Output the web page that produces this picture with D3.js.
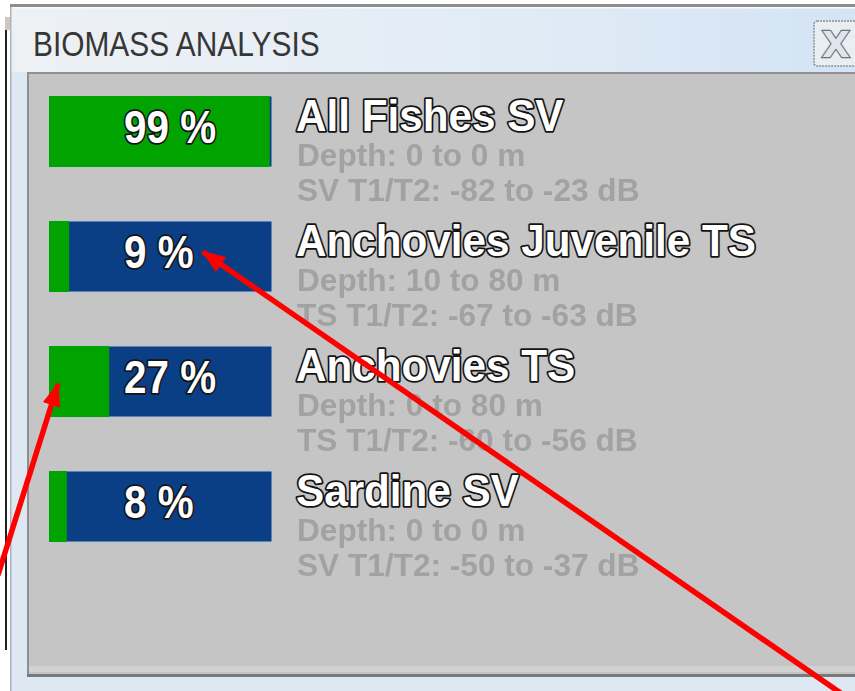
<!DOCTYPE html>
<html><head><meta charset="utf-8">
<script src="https://cdn.jsdelivr.net/npm/d3@7"></script>
<style>
html,body{margin:0;padding:0;background:#fff;}
svg{display:block;}
</style></head>
<body>
<script>
// ---- data ----
const categories = ["All Fishes SV", "Anchovies Juvenile TS", "Anchovies TS", "Sardine SV"];
const percentages = [99, 9, 27, 8];
const depthFrom = [0, 10, 0, 0];
const depthTo = [0, 80, 80, 0];
const thresholdType = ["SV", "TS", "TS", "SV"];
const thresholdLow = [-82, -67, -60, -50];
const thresholdHigh = [-23, -63, -56, -37];
const panelTitle = "BIOMASS ANALYSIS";

const W = 855, H = 691;
const svg = d3.select("body").append("svg").attr("width", W).attr("height", H);
const defs = svg.append("defs");

const tg = defs.append("linearGradient").attr("id", "titleGrad").attr("x1", 0).attr("x2", 1);
tg.append("stop").attr("offset", 0).attr("stop-color", "#eef1f4");
tg.append("stop").attr("offset", 0.55).attr("stop-color", "#e2ecf6");
tg.append("stop").attr("offset", 1).attr("stop-color", "#d4e4f4");

defs.append("filter").attr("id", "soft").append("feGaussianBlur").attr("stdDeviation", 0.7);

const mk = defs.append("marker").attr("id", "arrow").attr("viewBox", "0 0 24 18")
  .attr("refX", 22).attr("refY", 9).attr("markerWidth", 24).attr("markerHeight", 18)
  .attr("orient", "auto").attr("markerUnits", "userSpaceOnUse");
mk.append("path").attr("d", "M0,0 L24,9 L0,18 z").attr("fill", "#f00");

// background window remnant on the left
svg.append("rect").attr("x", 5).attr("y", 30).attr("width", 2).attr("height", 620).attr("fill", "#222");
svg.append("rect").attr("x", 5).attr("y", 17).attr("width", 6).attr("height", 13).attr("fill", "#cfc8c0");

// window frame
svg.append("rect").attr("x", 10).attr("y", 5).attr("width", W - 10).attr("height", H - 5).attr("fill", "#dde8f3");
svg.append("rect").attr("x", 10).attr("y", 5).attr("width", W - 10).attr("height", 67).attr("fill", "url(#titleGrad)");
svg.append("rect").attr("x", 10).attr("y", 4).attr("width", W - 10).attr("height", 3).attr("fill", "#8e8e8e");
svg.append("rect").attr("x", 10).attr("y", 7).attr("width", 1.5).attr("height", H - 7).attr("fill", "#a9b4bf");
svg.append("rect").attr("x", 12).attr("y", 7).attr("width", W - 12).attr("height", 1.5).attr("fill", "#f8fbfe");

// title
svg.append("text").attr("transform", "translate(33,56) scale(0.83,1)")
  .attr("font-family", "'Liberation Sans', Arial, sans-serif").attr("font-size", 36)
  .attr("fill", "#363636").text(panelTitle);

// close button
const cb = svg.append("g");
cb.append("rect").attr("x", 814).attr("y", 21).attr("width", 44).attr("height", 45).attr("rx", 3)
  .attr("fill", "#e9eef3").attr("stroke", "#8a8f96").attr("stroke-width", 1.5).attr("stroke-dasharray", "2,1");
cb.append("text").attr("x", 836).attr("y", 57).attr("text-anchor", "middle")
  .attr("font-family", "'DejaVu Sans', sans-serif").attr("font-size", 36).attr("font-weight", "bold")
  .attr("fill", "#dfe5ec").attr("stroke", "#6f757d").attr("stroke-width", 2.4).attr("paint-order", "stroke").text("X");

// panel
svg.append("rect").attr("x", 27).attr("y", 72).attr("width", W - 27).attr("height", 605).attr("fill", "#c5c5c5");
svg.append("rect").attr("x", 27).attr("y", 72).attr("width", W - 27).attr("height", 2).attr("fill", "#8f8f8f");
svg.append("rect").attr("x", 27).attr("y", 72).attr("width", 2).attr("height", 605).attr("fill", "#8f8f8f");
svg.append("rect").attr("x", 29).attr("y", 666).attr("width", W - 29).attr("height", 6).attr("fill", "#d2d2d2");
svg.append("rect").attr("x", 27).attr("y", 674).attr("width", W - 27).attr("height", 3).attr("fill", "#7a7a7a");

// scales
const x = d3.scaleLinear().domain([0, 100]).range([49, 272]);
const y = d3.scaleBand().domain(categories).range([96, 542]).paddingInner(0.432).paddingOuter(0);

const rows = svg.append("g").selectAll("g").data(categories).join("g")
  .attr("transform", d => `translate(0,${y(d)})`);

const bh = y.bandwidth();
rows.append("rect").attr("x", x(0)).attr("y", 0).attr("width", x(100) - x(0)).attr("height", bh)
  .attr("fill", "#0a3f86").attr("stroke", "#b8c6dc").attr("stroke-width", 1);
rows.append("rect").attr("x", x(0)).attr("y", 0)
  .attr("width", (d, i) => x(percentages[i]) - x(0)).attr("height", bh).attr("fill", "#00a300");

const outline = sel => sel.attr("fill", "#fff").attr("stroke", "#141414").attr("stroke-width", 3.6)
  .attr("stroke-linejoin", "round").attr("paint-order", "stroke")
  .attr("font-family", "'Liberation Sans', Arial, sans-serif").attr("font-weight", "bold");

rows.append("text").attr("transform", "translate(124,47) scale(0.86,1)").attr("font-size", 47)
  .call(outline).text((d, i) => `${percentages[i]} %`);

rows.append("text").attr("transform", "translate(296,35) scale(0.96,1)").attr("font-size", 44)
  .call(outline).text(d => d);

const sub = rows.append("g").attr("filter", "url(#soft)")
  .attr("font-family", "'Liberation Sans', Arial, sans-serif").attr("font-weight", "bold")
  .attr("font-size", 31).attr("fill", "#a2a2a2");
sub.append("text").attr("transform", "translate(297,70) scale(1.02,1)")
  .text((d, i) => `Depth: ${depthFrom[i]} to ${depthTo[i]} m`);
sub.append("text").attr("transform", "translate(297,105) scale(1.02,1)")
  .text((d, i) => `${thresholdType[i]} T1/T2: ${thresholdLow[i]} to ${thresholdHigh[i]} dB`);

// red annotation arrows
const arrows = svg.append("g");
arrows.append("line").attr("x1", 842).attr("y1", 694).attr("x2", 203).attr("y2", 252)
  .attr("stroke", "#f00").attr("stroke-width", 5.5).attr("marker-end", "url(#arrow)");
arrows.append("line").attr("x1", -2).attr("y1", 575).attr("x2", 58).attr("y2", 384)
  .attr("stroke", "#f00").attr("stroke-width", 5.5).attr("marker-end", "url(#arrow)");
</script>
</body></html>
